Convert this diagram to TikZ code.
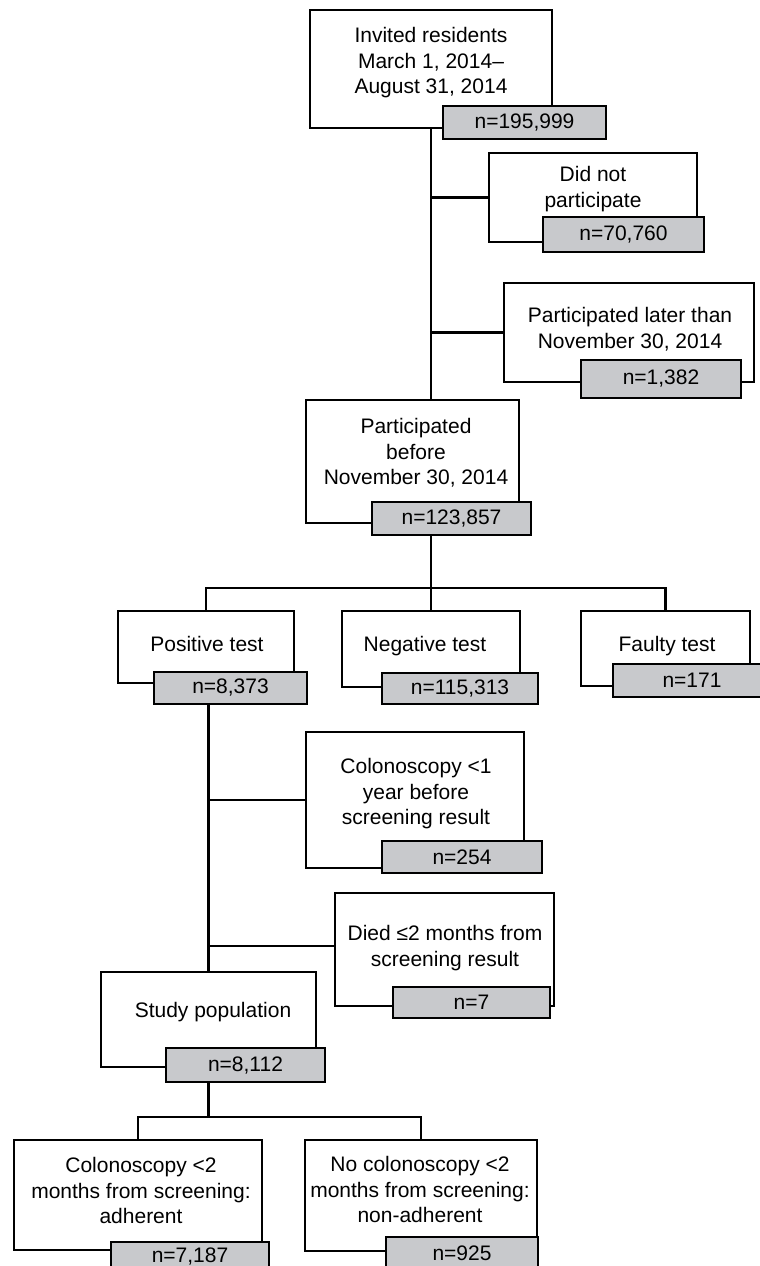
\documentclass[tikz,border=0pt]{standalone}
\usepackage{fontspec}
\setmainfont{Liberation Sans}
\definecolor{graybox}{RGB}{200,201,204}
\begin{document}
\begin{tikzpicture}[x=1pt,y=-1pt,
  wbox/.style={draw=black, fill=white, line width=2.6pt, inner sep=0pt, rectangle},
  gbox/.style={draw=black, fill=graybox, line width=2.6pt, inner sep=0pt, rectangle, font=\fontsize{21}{25.7}\selectfont},
  txt/.style={align=center, inner sep=0pt, anchor=north, font=\fontsize{21}{25.7}\selectfont},
  link/.style={line width=2.6pt, draw=black}]
\clip (0,0) rectangle (760,1266);
\useasboundingbox (0,0) rectangle (760,1266);

% white boxes
\node[wbox, minimum width=242pt, minimum height=118pt] (inv) at (431,69) {};
\node[wbox, minimum width=208pt, minimum height=89pt] (dnp) at (593,197.5) {};
\node[wbox, minimum width=250pt, minimum height=99pt] (late) at (629,332.5) {};
\node[wbox, minimum width=213pt, minimum height=123pt] (part) at (412.5,461.5) {};
\node[wbox, minimum width=176pt, minimum height=72pt] (pos) at (206,647) {};
\node[wbox, minimum width=178pt, minimum height=76pt] (neg) at (431,649) {};
\node[wbox, minimum width=169pt, minimum height=75pt] (fau) at (665.5,648.5) {};
\node[wbox, minimum width=218pt, minimum height=136pt] (col1) at (415,800) {};
\node[wbox, minimum width=219pt, minimum height=113pt] (died) at (444.5,949.5) {};
\node[wbox, minimum width=215pt, minimum height=95pt] (study) at (208.5,1019.5) {};
\node[wbox, minimum width=248pt, minimum height=110pt] (col2) at (138,1195) {};
\node[wbox, minimum width=232pt, minimum height=111pt] (nocol) at (421,1195.5) {};

% connectors
\coordinate (split1) at (431,588);
\coordinate (split2) at (208.5,1117);
\draw[link] (inv.south) -- (inv.south |- part.north);
\draw[link] (inv.south |- dnp.west) -- (dnp.west);
\draw[link] (inv.south |- late.west) -- (late.west);
\draw[link] (neg.north |- part.south) -- (neg.north);
\draw[link] (pos.north) |- (split1) -| (fau.north);
\draw[link] (study.north |- pos.south) -- (study.north);
\draw[link] (study.north |- col1.west) -- (col1.west);
\draw[link] (study.north |- 0,946) -- ([yshift=3.5pt]died.west);
\draw[link] (study.north |- study.south) -- (split2);
\draw[link] (col2.north) |- (split2) -| (nocol.north);

% gray count boxes
\node[gbox, minimum width=163pt, minimum height=33pt] (g1) at (524.5,122.5) {n=195,999};
\node[gbox, minimum width=161pt, minimum height=35pt] (g2) at (623.5,234.5) {n=70,760};
\node[gbox, minimum width=160pt, minimum height=38pt] (g3) at (661,379) {n=1,382};
\node[gbox, minimum width=159pt, minimum height=33pt] (g4) at (451.5,518.5) {n=123,857};
\node[gbox, minimum width=153pt, minimum height=32pt] (g5) at (230.5,688) {n=8,373};
\node[gbox, minimum width=156pt, minimum height=31pt] (g6) at (460,688.5) {n=115,313};
\node[gbox, minimum width=158pt, minimum height=33pt] (g7) at (692,680.5) {n=171};
\node[gbox, minimum width=160pt, minimum height=32pt] (g8) at (462,857) {n=254};
\node[gbox, minimum width=157pt, minimum height=31pt] (g9) at (471.5,1002.5) {n=7};
\node[gbox, minimum width=159pt, minimum height=34pt] (g10) at (245.5,1065) {n=8,112};
\node[gbox, minimum width=158pt, minimum height=28pt] (g11) at (190,1256) {n=7,187};
\node[gbox, minimum width=152pt, minimum height=32pt] (g12) at (462,1253) {n=925};

% texts
\node[txt] (invt) at (431,27) {Invited residents\\March 1, 2014–\\August 31, 2014};
\node[txt] (dnpt) at (593,166) {Did not\\participate};
\node[txt] (latet) at (630,307) {Participated later than\\November 30, 2014};
\node[txt] (partt) at (416,418) {Participated\\before\\November 30, 2014};
\node[txt] (post) at (207,636) {Positive test};
\node[txt] (negt) at (425,636) {Negative test};
\node[txt] (faut) at (667,636) {Faulty test};
\node[txt] (col1t) at (416,758) {Colonoscopy <1\\year before\\screening result};
\node[txt] (diedt) at (445,925) {Died ≤2 months from\\screening result};
\node[txt] (studyt) at (213,1002) {Study population};
\node[txt] (col2t) at (141,1157) {Colonoscopy <2\\months from screening:\\adherent};
\node[txt] (nocolt) at (420,1156) {No colonoscopy <2\\months from screening:\\non-adherent};
\end{tikzpicture}
\end{document}
